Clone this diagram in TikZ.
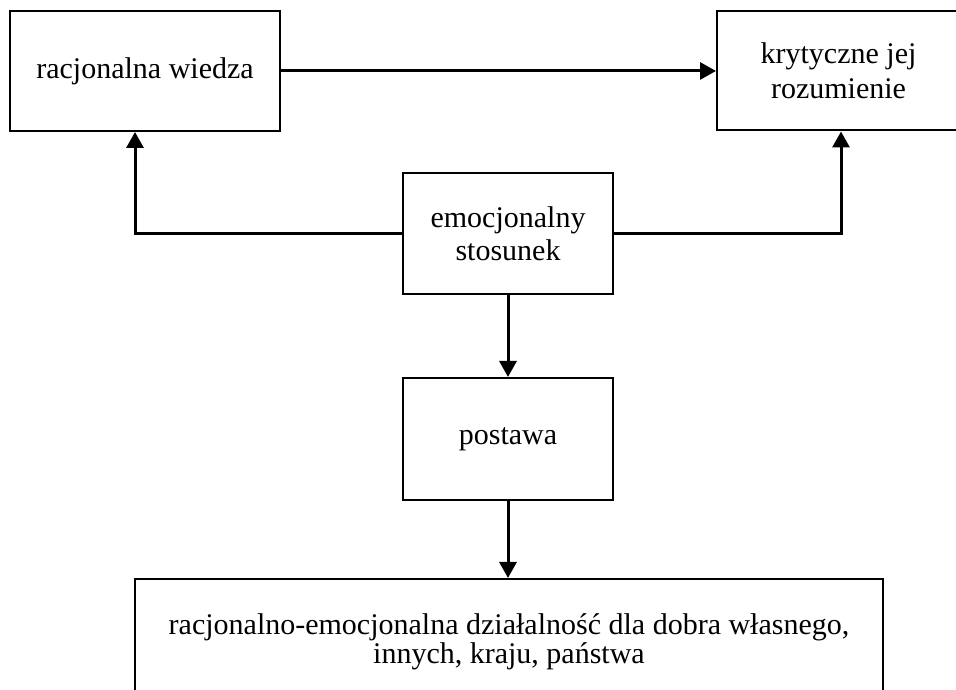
\documentclass[tikz,border=0pt]{standalone}
\usepackage{fontspec}
\setmainfont{Liberation Serif}
\usetikzlibrary{positioning,arrows.meta}

\begin{document}
\begin{tikzpicture}[
  x=1pt, y=1pt,
  box/.style={draw, line width=2pt, align=center, font=\fontsize{30}{33}\selectfont},
  flow/.style={-{Triangle[length=16pt, width=17pt]}, line width=3pt}
]
\useasboundingbox (0,0) rectangle (956,690);
\clip (0,0) rectangle (956,690);
\node[box, minimum width=270pt, minimum height=120pt] (wiedza) at (145,619) {racjonalna wiedza};
\node[box, minimum width=243pt, minimum height=119pt, right=435pt of wiedza,
      font=\fontsize{30}{35}\selectfont] (rozum) {krytyczne jej\\rozumienie};
\node[box, minimum width=210pt, minimum height=121pt] (stosunek) at (508,456.5) {emocjonalny\\stosunek};
\node[box, minimum width=210pt, minimum height=122pt, below=82pt of stosunek] (postawa) {postawa};
\node[box, minimum width=748pt, inner ysep=35pt, anchor=north, font=\fontsize{30}{27}\selectfont]
  (dzialanie) at (509,112) {racjonalno-emocjonalna działalność dla dobra własnego,\\innych, kraju, państwa};
\draw[flow] (wiedza) -- (rozum);
\draw[flow] (stosunek.west) -| ([xshift=-10pt]wiedza.south);
\draw[flow] (stosunek.east) -| ([xshift=2.5pt]rozum.south);
\draw[flow] (stosunek) -- (postawa);
\draw[flow] (postawa) -- (postawa.south |- dzialanie.north);
\end{tikzpicture}
\end{document}
